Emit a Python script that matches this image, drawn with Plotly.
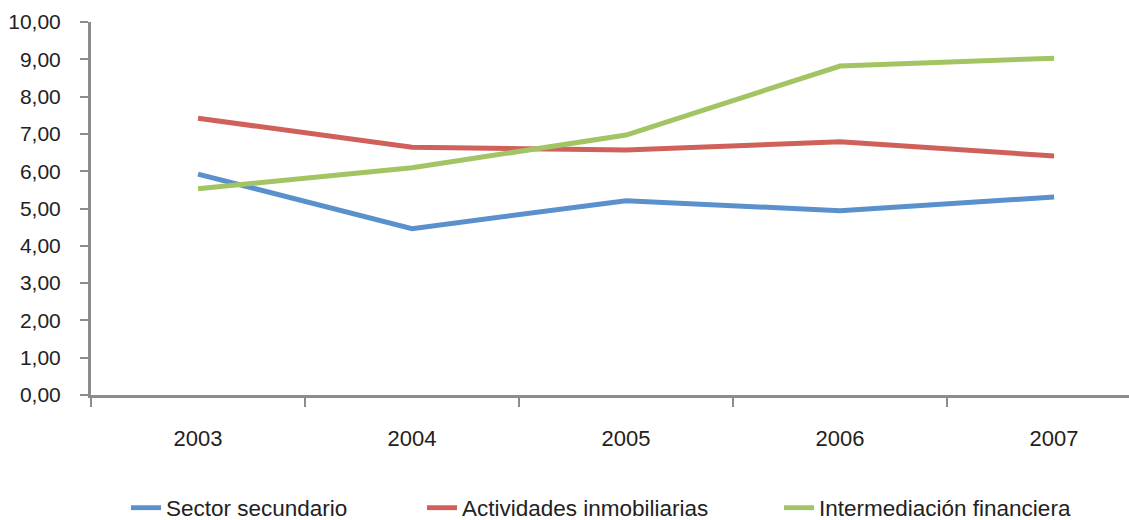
import plotly.graph_objects as go

years = ["2003", "2004", "2005", "2006", "2007"]
sector_secundario = [5.92, 4.46, 5.21, 4.94, 5.31]
actividades_inmobiliarias = [7.42, 6.64, 6.57, 6.79, 6.41]
intermediacion_financiera = [5.53, 6.09, 6.97, 8.82, 9.03]

series = [
    ("Sector secundario", sector_secundario, "#5A90CC", "legend"),
    ("Actividades inmobiliarias", actividades_inmobiliarias, "#D0605A", "legend2"),
    ("Intermediación financiera", intermediacion_financiera, "#A3C462", "legend3"),
]

font_family = "Liberation Sans, Arial, sans-serif"
text_color = "#222222"
axis_grey = "#8C8C8C"

# plot area spans 91..1129 px horizontally
plot_left, plot_width = 91, 1038

def paper_x(px):
    return (px - plot_left) / plot_width

fig = go.Figure()
for name, values, color, legend_id in series:
    fig.add_trace(go.Scatter(
        x=years, y=values, name=name, mode="lines",
        line=dict(color=color, width=5), legend=legend_id,
    ))

legend_common = dict(
    orientation="h", xanchor="left",
    yref="container", y=(520 - 508) / 520, yanchor="middle",
    font=dict(family=font_family, size=22.5, color=text_color),
    itemwidth=30, bgcolor="rgba(0,0,0,0)",
)

fig.update_layout(
    width=1129, height=520,
    margin=dict(l=plot_left, r=0, t=22, b=125),
    paper_bgcolor="white", plot_bgcolor="white",
    separators=",.",
    font=dict(family=font_family, size=21, color=text_color),
    showlegend=True,
    legend=dict(legend_common, x=paper_x(126)),
    legend2=dict(legend_common, x=paper_x(422)),
    legend3=dict(legend_common, x=paper_x(779)),
    xaxis=dict(
        type="category", range=[-0.5, 4.35], automargin=False,
        tickson="boundaries", ticks="outside", ticklen=9, tickwidth=2,
        tickcolor=axis_grey, showline=True, linecolor=axis_grey, linewidth=3,
        showgrid=False, zeroline=False, ticklabelstandoff=22,
        tickfont=dict(size=22),
    ),
    yaxis=dict(
        range=[0, 10], tickvals=[i for i in range(11)], tickformat=".2f",
        automargin=False,
        ticks="outside", ticklen=8, tickwidth=2, tickcolor=axis_grey,
        showline=True, linecolor=axis_grey, linewidth=3,
        showgrid=False, zeroline=False, ticklabelstandoff=15,
        tickfont=dict(size=21),
    ),
)

fig.write_html("out.html")
